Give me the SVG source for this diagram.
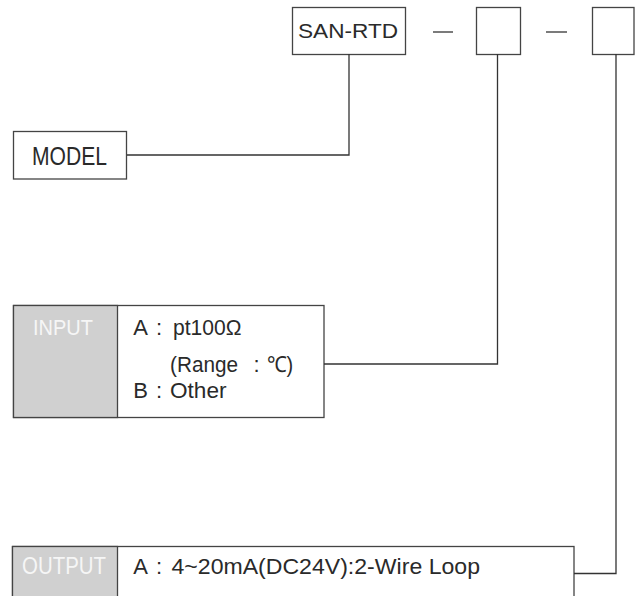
<svg xmlns="http://www.w3.org/2000/svg" width="636" height="596" viewBox="0 0 636 596">
<style>
.box{fill:#fff;stroke:#444;stroke-width:1.3}
.gray{fill:#d0d0d0;stroke:#444;stroke-width:1.3}
.t{font-family:"Liberation Sans",Arial,sans-serif;fill:#2a2a2a}
.w{font-family:"Liberation Sans",Arial,sans-serif;fill:#f6f6f6}
.ln{fill:none;stroke:#333;stroke-width:1.3}
</style>
<rect width="636" height="596" fill="#fff"/>
<g id="code">
<rect class="box" x="292.5" y="7.5" width="113" height="47"/>
<text class="t" x="298" y="38" font-size="21" textLength="100" lengthAdjust="spacingAndGlyphs">SAN-RTD</text>
<line class="ln" x1="433" y1="32" x2="453" y2="32"/>
<rect class="box" x="476.5" y="7.5" width="44" height="47"/>
<line class="ln" x1="546" y1="32" x2="567" y2="32"/>
<rect class="box" x="592.5" y="7.5" width="41.5" height="47"/>
</g>
<g id="model">
<rect class="box" x="13.5" y="131.5" width="113" height="47.5"/>
<text class="t" x="32" y="165" font-size="25" textLength="75" lengthAdjust="spacingAndGlyphs">MODEL</text>
</g>
<g id="input">
<rect class="box" x="13.5" y="305.5" width="310.5" height="112"/>
<rect class="gray" x="13.5" y="305.5" width="104" height="112"/>
<text class="w" x="33" y="335" font-size="22" textLength="60" lengthAdjust="spacingAndGlyphs">INPUT</text>
<text class="t" y="335" font-size="22"><tspan x="133.3">A</tspan><tspan x="156">:</tspan><tspan x="173" textLength="68.5" lengthAdjust="spacingAndGlyphs">pt100Ω</tspan></text>
<text class="t" y="371.5" font-size="22"><tspan x="170" textLength="68" lengthAdjust="spacingAndGlyphs">(Range</tspan><tspan x="253.5">:</tspan><tspan x="266.5" textLength="26.5" lengthAdjust="spacingAndGlyphs">℃)</tspan></text>
<text class="t" y="398" font-size="22"><tspan x="133.3">B</tspan><tspan x="156">:</tspan><tspan x="170" textLength="56.5" lengthAdjust="spacingAndGlyphs">Other</tspan></text>
</g>
<g id="output">
<rect class="box" x="12.5" y="546.5" width="561.5" height="60"/>
<rect class="gray" x="12.5" y="546.5" width="105" height="60"/>
<text class="w" x="22" y="574" font-size="23" textLength="84" lengthAdjust="spacingAndGlyphs">OUTPUT</text>
<text class="t" y="574" font-size="22"><tspan x="133.3">A</tspan><tspan x="156">:</tspan><tspan x="171.5" textLength="308.5" lengthAdjust="spacingAndGlyphs">4~20mA(DC24V):2-Wire Loop</tspan></text>
</g>
<g id="connectors">
<polyline class="ln" points="349,54 349,155 127,155"/>
<polyline class="ln" points="497.5,54 497.5,364 324,364"/>
<polyline class="ln" points="616,54 616,573.5 574,573.5"/>
</g>
</svg>
